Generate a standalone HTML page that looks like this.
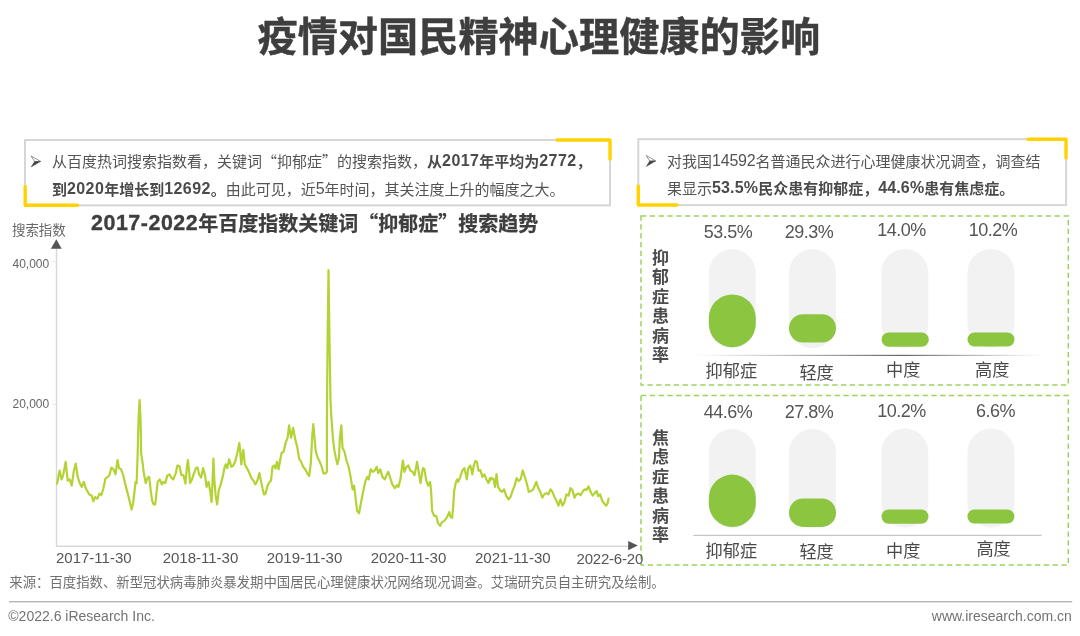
<!DOCTYPE html>
<html lang="zh-CN">
<head>
<meta charset="utf-8">
<title>疫情对国民精神心理健康的影响</title>
<style>
html,body{margin:0;padding:0;background:#fff;}
body{width:1080px;height:636px;position:relative;overflow:hidden;font-family:"Liberation Sans","Noto Sans CJK SC",sans-serif;color:#444;}
.abs{position:absolute;white-space:nowrap;}
#gfx{position:absolute;left:0;top:0;}
h1{position:absolute;left:-1.2px;top:12.2px;width:1080px;margin:0;text-align:center;font-size:40.2px;line-height:52px;font-weight:700;color:#3e3e3e;letter-spacing:0;-webkit-text-stroke:0.45px #3e3e3e;}
.body{font-size:15px;line-height:27px;color:#545454;}
.body b{font-weight:700;color:#4a4a4a;}
.ctitle{font-size:20px;font-weight:700;color:#3e3e3e;line-height:24px;-webkit-text-stroke:0.25px #3e3e3e;}
.q{font-family:"Noto Sans CJK SC",sans-serif;}
i{font-style:normal;}
.body i{font-size:16px;letter-spacing:-0.2px;position:relative;top:-0.7px;}
.body b i{letter-spacing:0.4px;}
.body b i.p{letter-spacing:0.15px;}
.ctitle i{font-size:21.4px;letter-spacing:0.55px;position:relative;top:-1.3px;-webkit-text-stroke:0.35px #3e3e3e;}
.ax{font-size:12px;color:#666;line-height:14px;}
.xl{font-size:15px;color:#555;line-height:16px;}
.pct{font-size:18px;letter-spacing:-0.5px;color:#555;line-height:20px;text-align:center;width:80px;}
.cat{font-size:17.2px;color:#4a4a4a;line-height:20px;text-align:center;width:80px;}
.vert{font-size:17px;font-weight:700;color:#4c4c4c;line-height:19.4px;width:17px;text-align:center;white-space:normal;}
.foot{font-size:14px;color:#737373;line-height:16px;}
.src{font-size:13.38px;color:#707070;line-height:16px;}
</style>
</head>
<body>
<svg id="gfx" width="1080" height="636" viewBox="0 0 1080 636">
  <defs>
    <linearGradient id="bl" x1="0" x2="1" y1="0" y2="0">
      <stop offset="0" stop-color="#777" stop-opacity="0"/>
      <stop offset="0.6" stop-color="#666" stop-opacity="1"/>
      <stop offset="1" stop-color="#777" stop-opacity="0"/>
    </linearGradient>
  </defs>
  <!-- text boxes -->
  <rect x="25" y="140" width="585" height="65.4" fill="#fff" stroke="#d6d6d6" stroke-width="2"/>
  <rect x="638.3" y="139.2" width="427.8" height="65.9" fill="#fff" stroke="#d6d6d6" stroke-width="2"/>
  <g fill="none" stroke="#ffd200" stroke-width="3.4" stroke-linecap="round" stroke-linejoin="round">
    <polyline points="25.2,186.5 25.2,205.2 77.5,205.2"/>
    <polyline points="557,140 610,140 610,159"/>
    <polyline points="638.3,186 638.3,205 677,205"/>
    <polyline points="1028,139.2 1066,139.2 1066,158"/>
  </g>
  <!-- bullets -->
  <g>
    <polygon points="31.2,156 40.5,161.4 34.6,161.6" fill="#fff" stroke="#666" stroke-width="0.7" stroke-linejoin="round"/>
    <polygon points="34.6,161.6 40.5,161.4 31.2,166.9" fill="#444" stroke="#444" stroke-width="0.5" stroke-linejoin="round"/>
    <polygon points="646.3,155.5 655.6,160.9 649.7,161.1" fill="#fff" stroke="#666" stroke-width="0.7" stroke-linejoin="round"/>
    <polygon points="649.7,161.1 655.6,160.9 646.3,166.4" fill="#444" stroke="#444" stroke-width="0.5" stroke-linejoin="round"/>
  </g>
  <!-- dashed panels -->
  <g fill="none" stroke="#9dd25e" stroke-width="1.5" stroke-dasharray="5.3 3.5">
    <rect x="641" y="216" width="427.3" height="169.1"/>
    <rect x="641" y="395.5" width="427.3" height="169.5"/>
  </g>
  <!-- axes -->
  <line x1="56.5" y1="248" x2="56.5" y2="547" stroke="#d8d8d8" stroke-width="1.4"/>
  <line x1="56" y1="546.3" x2="630" y2="546.3" stroke="#d8d8d8" stroke-width="1.4"/>
  <line x1="52" y1="261.6" x2="56.5" y2="261.6" stroke="#e6e6e6" stroke-width="1"/>
  <line x1="52" y1="404.1" x2="56.5" y2="404.1" stroke="#e6e6e6" stroke-width="1"/>
  <polygon points="56.3,239.2 61.7,248.8 50.9,248.8" fill="#555"/>
  <polygon points="637.8,545.6 628.2,541 628.2,550.3" fill="#555"/>
  <!-- line series -->
  <polyline fill="none" stroke="#b3d334" stroke-width="2.2" stroke-linejoin="round" stroke-linecap="round" points="57.1,483.6 59.6,470.6 61.6,479.4 63.1,475.6 65.7,461.8 67.7,480.6 69.7,479.4 71.7,485.7 73.7,471.8 75.7,463.5 77.7,476.9 79.7,483.1 81.8,486.9 83.8,481.9 85.8,488.2 89.3,494.5 91.8,495.7 93.3,501.3 95.3,497.0 97.4,498.7 99.4,493.7 101.4,495.2 103.4,488.2 105.4,478.6 107.9,476.9 109.4,475.1 111.4,467.5 113.5,469.3 115.5,474.3 117.5,460.0 119.0,468.1 121.0,469.3 123.0,474.3 125.0,483.1 127.0,490.7 128.6,497.0 130.1,503.3 131.6,509.6 133.1,503.3 134.6,490.7 135.6,481.9 136.6,483.1 137.6,455.5 138.6,417.7 139.6,400.1 140.6,420.3 141.1,453.0 142.6,463.0 143.6,471.8 145.7,483.1 147.7,477.6 149.2,476.9 150.7,490.7 152.2,500.8 153.7,504.5 155.2,504.5 156.7,490.7 157.7,481.9 159.7,479.4 161.8,484.4 163.3,481.9 165.3,483.1 167.3,475.6 169.3,474.3 171.3,477.6 173.3,479.4 175.8,473.1 177.4,465.5 179.4,466.0 181.4,475.1 183.4,475.1 185.4,483.6 186.9,466.8 187.9,460.0 189.4,474.3 190.0,483.1 192.0,479.4 194.0,473.1 196.0,468.1 197.5,467.5 199.1,474.3 201.1,477.6 203.1,468.1 205.1,475.6 206.6,486.9 208.6,481.9 210.1,490.7 211.6,502.0 212.6,480.6 213.4,458.5 214.4,480.6 215.7,495.7 217.2,504.5 218.7,490.7 220.7,484.4 222.7,476.9 224.7,466.8 225.7,464.3 227.2,468.1 229.2,459.2 231.3,466.8 233.3,465.5 235.3,461.0 237.3,453.0 239.3,442.9 240.3,453.0 241.3,464.3 242.3,455.5 243.3,449.9 244.8,464.3 246.9,468.1 249.4,473.1 251.4,478.1 253.4,480.6 255.4,484.4 257.4,480.6 259.4,473.1 260.9,480.6 262.5,488.2 264.0,494.5 265.5,493.7 267.5,485.7 269.5,481.9 271.0,480.6 272.5,466.8 274.0,465.5 275.5,468.6 277.0,461.8 278.6,469.3 280.1,460.5 281.6,453.0 283.6,451.7 285.6,442.9 287.6,437.9 289.1,425.3 291.1,437.9 293.1,427.8 295.2,439.1 297.2,446.7 299.2,459.2 301.2,461.8 303.2,466.8 305.2,469.3 307.2,473.1 309.2,476.1 310.8,463.0 312.3,435.3 313.3,424.0 314.3,435.3 315.8,451.7 317.8,458.0 319.8,461.8 321.8,466.8 323.3,473.1 325.3,473.6 326.9,471.8 326.9,420.0 327.6,340.0 328.5,270.0 329.5,340.0 330.5,400.0 331.4,417.7 332.9,437.9 334.4,450.4 335.9,458.0 337.4,464.3 338.9,458.0 339.9,437.9 341.3,425.3 342.5,447.9 344.5,451.7 346.5,460.5 348.6,466.8 350.6,476.9 352.6,489.4 354.1,485.7 355.6,498.2 357.1,510.8 359.1,513.3 361.1,502.0 363.1,491.9 365.2,481.9 367.2,476.9 368.7,479.4 370.7,469.3 372.7,471.8 374.7,470.6 376.7,466.8 378.2,473.1 380.3,469.3 382.3,476.9 384.8,479.4 386.8,474.3 388.3,471.8 390.3,478.1 392.3,484.4 394.8,488.2 396.9,485.2 398.4,486.9 400.4,479.4 401.9,468.1 402.9,460.5 404.4,471.8 406.4,466.8 408.4,465.5 410.4,470.6 412.5,471.8 414.5,475.1 416.0,468.1 417.0,461.8 418.5,470.6 420.5,483.1 422.0,473.1 423.0,468.1 424.5,469.3 426.0,479.4 428.1,485.7 430.1,481.9 431.1,490.7 432.1,510.8 434.1,515.8 436.1,515.8 438.1,523.4 440.1,525.9 442.1,522.1 444.2,520.9 446.2,518.4 447.7,515.8 449.2,512.1 450.7,517.1 452.2,517.9 453.2,505.8 454.2,490.7 455.7,483.1 457.2,479.4 458.2,481.9 460.3,476.9 462.3,470.6 464.3,468.1 465.8,474.3 466.8,479.4 468.3,468.1 470.3,465.5 471.3,469.3 472.3,474.3 473.8,465.5 475.3,461.0 476.9,461.8 478.4,470.6 480.4,470.1 482.4,476.9 484.4,474.3 486.4,479.4 488.4,483.1 489.9,478.1 490.0,480.5 491.5,478.0 493.5,479.2 495.0,486.8 496.5,474.2 498.1,486.8 500.1,490.6 502.1,491.8 504.1,489.3 506.1,495.6 508.6,499.4 510.6,496.9 512.6,490.6 514.7,485.5 516.7,478.0 518.7,481.0 520.7,479.2 522.7,470.4 524.7,476.7 526.7,483.0 528.7,491.8 530.8,491.1 532.8,490.1 534.8,485.5 536.3,481.8 538.3,488.1 540.3,491.8 542.3,497.6 544.3,494.3 546.4,493.1 548.4,494.3 550.4,489.3 552.4,491.8 554.4,496.9 556.4,500.6 558.4,505.7 560.4,499.4 562.5,505.7 564.5,501.9 566.5,494.3 568.5,495.6 570.5,488.1 572.5,490.1 574.5,497.6 576.5,494.3 578.6,493.6 580.6,495.1 582.6,491.8 584.6,489.3 586.6,490.1 588.6,486.3 590.6,491.8 592.6,495.6 594.7,493.1 596.7,491.1 598.2,496.1 600.2,494.3 602.2,500.6 604.2,503.6 606.2,505.7 607.7,503.1 608.5,498.6"/>
  <!-- pills panel 1 -->
  <g fill="#f2f2f2">
    <rect x="708.8" y="249.3" width="47" height="99" rx="23.5"/>
    <rect x="789" y="249.3" width="47" height="99" rx="23.5"/>
    <rect x="881.3" y="249" width="47" height="99" rx="23.5"/>
    <rect x="967.5" y="249" width="47" height="99" rx="23.5"/>
    <rect x="708.8" y="429" width="47" height="99" rx="23.5"/>
    <rect x="789" y="429" width="47" height="99" rx="23.5"/>
    <rect x="881.3" y="428.5" width="47" height="99" rx="23.5"/>
    <rect x="967.5" y="428.5" width="47" height="99" rx="23.5"/>
  </g>
  <g fill="#8cc540">
    <rect x="708.8" y="294.4" width="47" height="52.8" rx="23.5"/>
    <rect x="789" y="314.2" width="47" height="28.3" rx="14"/>
    <rect x="881.6" y="332.5" width="47.2" height="14.3" rx="7.1"/>
    <rect x="967.5" y="332.5" width="47" height="14" rx="7"/>
    <rect x="708.8" y="474.6" width="47" height="52.4" rx="23.5"/>
    <rect x="789" y="498.5" width="47" height="28.4" rx="14"/>
    <rect x="881.5" y="509.5" width="47" height="14.3" rx="7.1"/>
    <rect x="967.4" y="509.5" width="47" height="14" rx="7"/>
  </g>
  <rect x="693.5" y="354.8" width="348" height="1.2" fill="url(#bl)"/>
  <rect x="693.5" y="534.8" width="348" height="1.2" fill="#c4c4c4"/>
  <!-- footer rule -->
  <rect x="9" y="601" width="1063.2" height="1.4" fill="#b5b5b5"/>
</svg>

<h1>疫情对国民精神心理健康的影响</h1>

<div class="abs body" style="left:52px;top:146.8px;">从百度热词搜索指数看，关键词<span class="q">“</span>抑郁症<span class="q">”</span>的搜索指数，<b>从<i>2017</i>年平均为<i>2772</i>，</b></div>
<div class="abs body" style="left:52px;top:175.5px;"><b>到<i>2020</i>年增长到<i>12692</i>。</b>由此可见，近<i>5</i>年时间，其关注度上升的幅度之大。</div>

<div class="abs body" style="left:667px;top:148px;">对我国<i>14592</i>名普通民众进行心理健康状况调查，调查结</div>
<div class="abs body" style="left:667px;top:174.5px;">果显示<b><i class="p">53.5%</i>民众患有抑郁症，<i class="p">44.6%</i>患有焦虑症。</b></div>

<div class="abs ctitle" style="left:91px;top:211.3px;"><i>2017-2022</i>年百度指数关键词<span class="q">“</span>抑郁症<span class="q">”</span>搜索趋势</div>
<div class="abs" style="left:12px;top:221.5px;font-size:13.5px;line-height:17px;color:#666;letter-spacing:-0.1px;">搜索指数</div>
<div class="abs ax" style="left:12.5px;top:256.5px;">40,000</div>
<div class="abs ax" style="left:12.5px;top:397px;">20,000</div>

<div class="abs xl" style="left:56px;top:549.8px;">2017-11-30</div>
<div class="abs xl" style="left:162.7px;top:549.8px;">2018-11-30</div>
<div class="abs xl" style="left:266.7px;top:549.8px;">2019-11-30</div>
<div class="abs xl" style="left:370.7px;top:549.8px;">2020-11-30</div>
<div class="abs xl" style="left:475px;top:549.8px;">2021-11-30</div>
<div class="abs xl" style="left:576.5px;top:551.3px;letter-spacing:-0.2px;">2022-6-20</div>

<div class="abs vert" style="left:652px;top:249px;">抑郁症患病率</div>
<div class="abs vert" style="left:652px;top:429px;">焦虑症患病率</div>

<div class="abs pct" style="left:688px;top:221.6px;">53.5%</div>
<div class="abs pct" style="left:769px;top:221.6px;">29.3%</div>
<div class="abs pct" style="left:861.5px;top:220.2px;">14.0%</div>
<div class="abs pct" style="left:953px;top:220.2px;">10.2%</div>
<div class="abs cat" style="left:691.3px;top:361px;">抑郁症</div>
<div class="abs cat" style="left:776.6px;top:362.5px;">轻度</div>
<div class="abs cat" style="left:863.2px;top:360.4px;">中度</div>
<div class="abs cat" style="left:952.2px;top:360.4px;">高度</div>

<div class="abs pct" style="left:688px;top:401.5px;">44.6%</div>
<div class="abs pct" style="left:769px;top:401.5px;">27.8%</div>
<div class="abs pct" style="left:861.5px;top:400.5px;">10.2%</div>
<div class="abs pct" style="left:955.6px;top:400.5px;">6.6%</div>
<div class="abs cat" style="left:691.3px;top:540.8px;">抑郁症</div>
<div class="abs cat" style="left:776.6px;top:542px;">轻度</div>
<div class="abs cat" style="left:863.2px;top:541.2px;">中度</div>
<div class="abs cat" style="left:953.6px;top:538.5px;">高度</div>

<div class="abs src" style="left:9.3px;top:575.3px;">来源：百度指数、新型冠状病毒肺炎暴发期中国居民心理健康状况网络现况调查。艾瑞研究员自主研究及绘制。</div>
<div class="abs foot" style="left:8.3px;top:607.6px;">©2022.6 iResearch Inc.</div>
<div class="abs foot" style="right:8.2px;top:607.6px;">www.iresearch.com.cn</div>
</body>
</html>
